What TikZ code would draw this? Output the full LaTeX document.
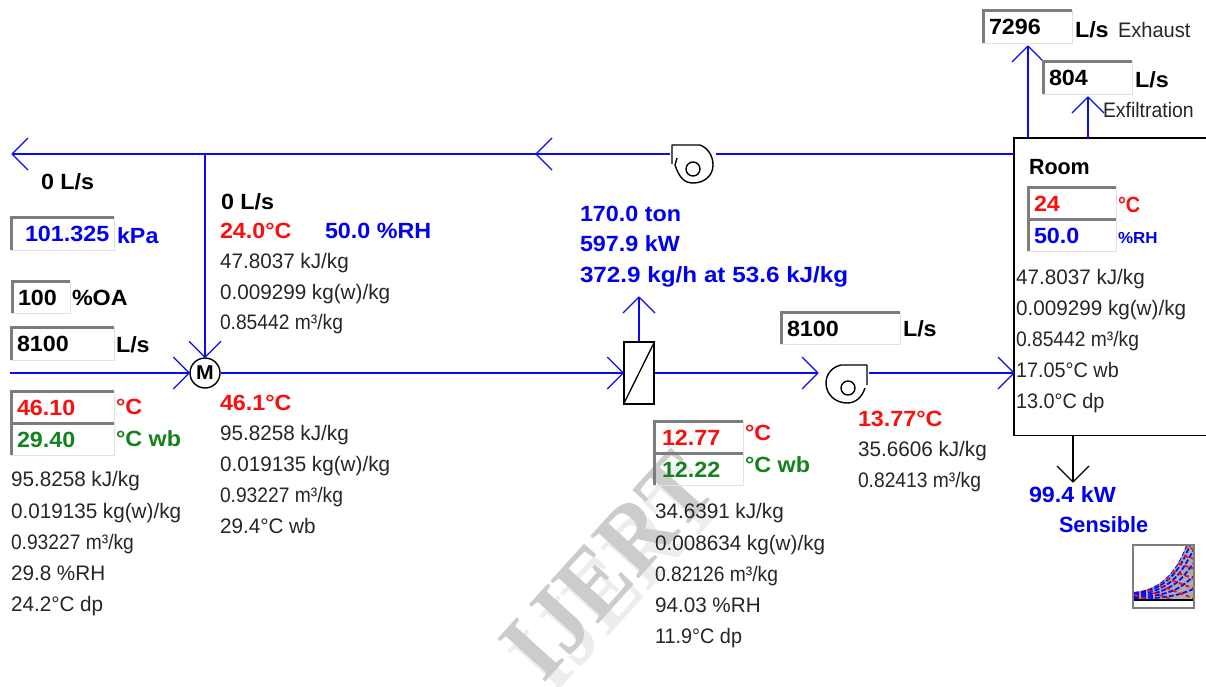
\documentclass[tikz,border=0pt]{standalone}
\usepackage{fontspec}
\usepackage{graphicx}
\setmainfont{Liberation Sans}
\newfontfamily\regfont[FakeStretch=0.985]{Liberation Sans}
\newfontfamily\widefam[FakeStretch=1.06]{Liberation Sans}
\newcommand{\boldwide}{\widefam\bfseries}
\newfontfamily\wmfam[FakeStretch=0.92]{Liberation Serif}
\usetikzlibrary{arrows.meta}
\pgfdeclarearrow{
  name=OpenV,
  parameters={\the\pgfarrowlength},
  setup code={
    \pgfarrowssettipend{0pt}
    \pgfarrowssetlineend{-0.5pt}
    \pgfarrowssetvisualbackend{-\pgfarrowlength}
    \pgfarrowssetbackend{-\pgfarrowlength}
    \pgfarrowshullpoint{0pt}{0pt}
    \pgfarrowshullpoint{-\pgfarrowlength}{\pgfarrowlength}
    \pgfarrowshullpoint{-\pgfarrowlength}{-\pgfarrowlength}
    \pgfarrowssavethe\pgfarrowlength
  },
  drawing code={
    \pgfsetdash{}{0pt}
    \pgfsetroundjoin
    \pgfsetlinewidth{1.2pt}
    \pgfpathmoveto{\pgfqpoint{-\pgfarrowlength}{\pgfarrowlength}}
    \pgfpathlineto{\pgfqpoint{0pt}{0pt}}
    \pgfpathlineto{\pgfqpoint{-\pgfarrowlength}{-\pgfarrowlength}}
    \pgfusepathqstroke
  },
  defaults={length=16pt}
}
\definecolor{flow}{RGB}{10,10,250}
\definecolor{lblue}{RGB}{0,0,240}
\definecolor{lred}{RGB}{250,15,15}
\definecolor{lgreen}{RGB}{20,130,30}
\definecolor{bevelA}{RGB}{125,125,125}
\definecolor{bevelB}{RGB}{225,225,225}
\tikzset{
  lab/.style={anchor=base west,inner sep=0pt,outer sep=0pt,font=\regfont\fontsize{21}{21}\selectfont,text=black!85},
  blab/.style={lab,font=\boldwide\fontsize{22}{22}\selectfont,text=black},
  redlab/.style={blab,text=lred},
  greenlab/.style={blab,text=lgreen},
  bluelab/.style={blab,text=lblue},
  flowline/.style={draw=flow,line width=1.5pt},
  heatline/.style={draw=black,line width=1.3pt},
  openarrow/.style={-{OpenV}},
  equip/.style={draw=black,line width=1.4pt},
  wm/.style={anchor=center,inner sep=0pt,rotate=48,font=\wmfam\bfseries\fontsize{98}{98}\selectfont}
}
\newcommand{\lbl}[5]{\node[#2] (#1) at (#3,#4+7.5) {#5};}
\newcommand{\sq}[2]{\scalebox{#1}[1]{#2}}
\newcommand{\valbox}[7]{%
  \node[inner sep=0pt,minimum width=#4pt-#2pt,minimum height=#5pt-#3pt,anchor=north west] (#1) at (#2,#3) {};
  \draw[bevelB,line width=1.8pt] (#1.south west) -- (#1.south east) -- (#1.north east);
  \draw[bevelA,line width=3pt] (#1.south west) -- (#1.north west) -- (#1.north east);
  \node[blab,text=#6] (#1txt) at (#2+6,#3+24) {#7};}
\begin{document}
\begin{tikzpicture}[x=1pt,y=-1pt]
\useasboundingbox (0,0) rectangle (1206,686);
\fill[white] (0,0) rectangle (1206,686);
% watermark
\node[wm,text=black!7] (wmb) at (618,578) {IJERT};
\node[wm,text=black!20] (wma) at (608,566) {IJERT};
% equipment
\node[equip,circle,minimum size=30pt,inner sep=0pt,fill=white,font=\boldwide\fontsize{20}{20}\selectfont] (mix) at (205,373) {M};
\node[equip,rectangle,minimum width=30pt,minimum height=62pt,inner sep=0pt] (coil) at (639,373) {};
\draw[black,line width=1.3pt] (coil.south west) -- (coil.north east);
\coordinate (fanAa) at (670,154);\coordinate (fanAb) at (716,154);
\coordinate (fanBa) at (818,373);\coordinate (fanBb) at (869,373);
% fans
\draw[equip,line join=round] (672,164) -- (672,145) -- (700,145) .. controls (708,148) and (713,156) .. (713,165) .. controls (713,176) and (704,183) .. (693,183) .. controls (684,183) and (679,177) .. (675,165) -- (677,158);
\draw[equip] (693,169) circle (7pt);
\draw[equip,line join=round] (867,385) -- (867,365) -- (841,365) .. controls (832,367) and (826,374) .. (826,383) .. controls (826,395) and (836,403) .. (847,403) .. controls (856,403) and (862,397) .. (865,388);
\draw[equip] (848,388) circle (7pt);
% room
\node[inner sep=0pt,minimum width=192pt,minimum height=297pt,anchor=north west] (room) at (1014,138) {};
\draw[black,line width=1.5pt] (room.north east) -- (room.north west) -- (room.south west) -- (room.south east);
% connector ends
\coordinate (outair) at (12,154);
\coordinate (retm) at (205,154);
\coordinate (oa) at (10,373);
\coordinate (roomret) at (1014,154);
\coordinate (roomsup) at (1014,373);
\coordinate (coilup) at (639,297);
\coordinate (exA) at (1028,138);\coordinate (exB) at (1028,46);
\coordinate (exfA) at (1088,138);\coordinate (exfB) at (1088,97);
\coordinate (sensA) at (1073,435);\coordinate (sensB) at (1073,482);
\coordinate (retmid) at (536,154);
% connectors
\draw[flowline] (roomret) -- (fanAb);
\draw[flowline,openarrow] (fanAa) -- (retmid);
\draw[flowline,openarrow] (retmid) -- (outair);
\draw[flowline,openarrow] (retm) -- (mix.north);
\draw[flowline,openarrow] (oa) -- (mix.west);
\draw[flowline,openarrow] (mix.east) -- (coil.west);
\draw[flowline,openarrow] (coil.east) -- (fanBa);
\draw[flowline,openarrow] (fanBb) -- (roomsup);
\draw[flowline,openarrow] (coil.north) -- (coilup);
\draw[flowline,openarrow] (exA) -- (exB);
\draw[flowline,openarrow] (exfA) -- (exfB);
\draw[heatline,openarrow] (sensA) -- (sensB);
% value boxes
\valbox{bA}{983}{10}{1072}{43}{black}{7296}
\valbox{bB}{1043}{61}{1132}{94}{black}{804}
\valbox{bC}{11}{217}{114}{250}{lblue}{\hspace{8pt}101.325}
\valbox{bD}{12}{281}{70}{313}{black}{100}
\valbox{bE}{11}{327}{114}{360}{black}{8100}
\valbox{bF}{11}{391}{114}{423}{lred}{46.10}
\valbox{bG}{11}{423}{114}{455}{lgreen}{29.40}
\valbox{bH}{1028}{187}{1116}{219}{lred}{24}
\valbox{bI}{1028}{219}{1116}{251}{lblue}{50.0}
\valbox{bJ}{781}{312}{900}{344}{black}{8100}
\valbox{bK}{654}{421}{743}{453}{lred}{\hspace{2pt}12.77}
\valbox{bL}{654}{453}{743}{485}{lgreen}{\hspace{2pt}12.22}
% labels, top right
\lbl{a1}{blab}{1075}{30}{L/s}
\lbl{a2}{lab}{1118}{30}{\sq{.97}{Exhaust}}
\lbl{a3}{blab}{1135}{80}{L/s}
\lbl{a4}{lab}{1103}{110}{\sq{.94}{Exfiltration}}
% left
\lbl{b1}{blab}{41}{182}{0 L/s}
\lbl{b2}{bluelab}{117}{236}{kPa}
\lbl{b3}{blab}{72}{298}{\%OA}
\lbl{b4}{blab}{116}{345}{L/s}
\lbl{b5}{redlab}{116}{407}{°C}
\lbl{b6}{greenlab}{116}{439}{°C wb}
\lbl{b7}{lab}{11}{479}{95.8258 kJ/kg}
\lbl{b8}{lab}{11}{511}{0.019135 kg(w)/kg}
\lbl{b9}{lab}{11}{542}{\sq{.93}{0.93227 m³/kg}}
\lbl{b10}{lab}{11}{573}{29.8 \%RH}
\lbl{b11}{lab}{11}{604}{24.2°C dp}
% return branch
\lbl{c1}{blab}{221}{202}{0 L/s}
\lbl{c2}{redlab}{220}{231}{24.0°C}
\lbl{c3}{bluelab}{325}{231}{50.0 \%RH}
\lbl{c4}{lab}{220}{261}{47.8037 kJ/kg}
\lbl{c5}{lab}{220}{292}{0.009299 kg(w)/kg}
\lbl{c6}{lab}{220}{322}{\sq{.93}{0.85442 m³/kg}}
% mixed
\lbl{d1}{redlab}{220}{403}{46.1°C}
\lbl{d2}{lab}{220}{433}{95.8258 kJ/kg}
\lbl{d3}{lab}{220}{464}{0.019135 kg(w)/kg}
\lbl{d4}{lab}{220}{495}{\sq{.93}{0.93227 m³/kg}}
\lbl{d5}{lab}{220}{526}{29.4°C wb}
% coil
\lbl{e1}{bluelab}{580}{214}{170.0 ton}
\lbl{e2}{bluelab}{580}{244}{597.9 kW}
\lbl{e3}{bluelab}{580}{275}{\sq{1.04}{372.9 kg/h at 53.6 kJ/kg}}
\lbl{e4}{redlab}{745}{433}{°C}
\lbl{e5}{greenlab}{745}{465}{°C wb}
\lbl{e6}{lab}{655}{511}{34.6391 kJ/kg}
\lbl{e7}{lab}{655}{543}{0.008634 kg(w)/kg}
\lbl{e8}{lab}{655}{574}{\sq{.93}{0.82126 m³/kg}}
\lbl{e9}{lab}{655}{605}{94.03 \%RH}
\lbl{e10}{lab}{655}{636}{\sq{.96}{11.9°C dp}}
% fan outlet
\lbl{f1}{blab}{903}{329}{L/s}
\lbl{f2}{redlab}{858}{419}{13.77°C}
\lbl{f3}{lab}{858}{449}{35.6606 kJ/kg}
\lbl{f4}{lab}{858}{480}{\sq{.93}{0.82413 m³/kg}}
% room
\lbl{g1}{blab}{1029}{167}{\sq{.92}{Room}}
\lbl{g2}{redlab}{1118}{205}{\sq{.85}{°C}}
\lbl{g3}{bluelab}{1118}{236}{\fontsize{16}{16}\selectfont\%RH}
\lbl{g4}{lab}{1016}{277}{47.8037 kJ/kg}
\lbl{g5}{lab}{1016}{308}{0.009299 kg(w)/kg}
\lbl{g6}{lab}{1016}{339}{\sq{.93}{0.85442 m³/kg}}
\lbl{g7}{lab}{1016}{370}{\sq{.96}{17.05°C wb}}
\lbl{g8}{lab}{1016}{401}{\sq{.96}{13.0°C dp}}
\lbl{g9}{bluelab}{1029}{495}{99.4 kW}
\lbl{g10}{bluelab}{1059}{525}{\sq{.93}{Sensible}}
% chart icon
\begin{scope}
  \clip (1134,592) .. controls (1158,590) and (1175,575) .. (1186,546) -- (1193,546) -- (1193,600) -- (1134,600) -- cycle;
  \fill[black!32] (1130,540) rectangle (1196,602);
  \foreach \f in {0.15,0.32,0.5,0.68,0.85,1.0}{
    \begin{scope}[shift={(0,600)},yscale=\f]
      \draw[flow,line width=1.8pt,dash pattern=on 5pt off 2pt] (1134,-8) .. controls (1158,-10) and (1175,-25) .. (1186,-54) -- (1200,-90);
    \end{scope}}
  \foreach \i in {0,1,2,3,4,5,6,7}{
    \draw[lred,line width=1.9pt,dash pattern=on 4pt off 3pt] (1128+\i*6,{592-\i*7}) -- (1198,{620-\i*10});
  }
\end{scope}
\draw[black,line width=1.6pt] (1134,600) -- (1193,600);
\draw[bevelA,line width=1.6pt] (1133,545) rectangle (1194,608);
\end{tikzpicture}
\end{document}
